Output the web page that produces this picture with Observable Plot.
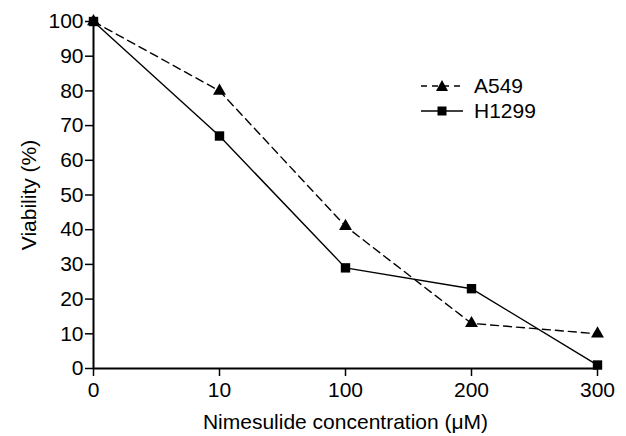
<!DOCTYPE html>
<html>
<head>
<meta charset="utf-8">
<script src="https://cdn.jsdelivr.net/npm/d3@7"></script>
<script src="https://cdn.jsdelivr.net/npm/@observablehq/plot@0.6"></script>
<style>
  html, body { margin: 0; padding: 0; background: #fff; }
  #wrap { position: relative; width: 626px; height: 436px; font-family: "Liberation Sans", Arial, Helvetica, sans-serif; }
  #legend { position: absolute; left: 420px; top: 73px; font-size: 21px; color: #000; line-height: 25px; }
  #legend .row { display: flex; align-items: center; height: 25px; }
  #legend svg { margin-right: 10px; }
</style>
</head>
<body>
<div id="wrap"></div>
<script>
const concentrations = ["0", "10", "100", "200", "300"];
const a549 = [100, 80, 41, 13, 10];
const h1299 = [100, 67, 29, 23, 1];
const yTicks = [0, 10, 20, 30, 40, 50, 60, 70, 80, 90, 100];
const seriesNames = ["A549", "H1299"];

const dataA = concentrations.map((c, i) => ({conc: c, v: a549[i]}));
const dataH = concentrations.map((c, i) => ({conc: c, v: h1299[i]}));

const chart = Plot.plot({
  width: 626,
  height: 436,
  marginLeft: 93,
  marginRight: 29,
  marginTop: 21,
  marginBottom: 68,
  style: { fontFamily: '"Liberation Sans", Arial, Helvetica, sans-serif', fontSize: "21px", color: "#000", background: "#fff" },
  x: { type: "point", domain: concentrations, padding: 0 },
  y: { domain: [0, 100] },
  marks: [
    Plot.axisY({ ticks: yTicks, tickSize: 8, tickPadding: 2, strokeWidth: 1.5, label: "Viability (%)", labelAnchor: "center", labelArrow: "none", labelOffset: 72 }),
    Plot.axisX({ tickSize: 8, tickPadding: 6, strokeWidth: 1.5, label: "Nimesulide concentration (μM)", labelAnchor: "center", labelArrow: "none", labelOffset: 60 }),
    Plot.ruleY([0], { stroke: "#000", strokeWidth: 2 }),
    Plot.ruleX([concentrations[0]], { y1: 0, y2: 100, stroke: "#000", strokeWidth: 2 }),
    Plot.line(dataA, { x: "conc", y: "v", stroke: "#000", strokeWidth: 1.4, strokeDasharray: "8,5" }),
    Plot.line(dataH, { x: "conc", y: "v", stroke: "#000", strokeWidth: 1.4 }),
    Plot.dot(dataA, { x: "conc", y: "v", symbol: "triangle", r: 4.8, fill: "#000", stroke: "none" }),
    Plot.dot(dataH, { x: "conc", y: "v", symbol: "square", r: 5.3, fill: "#000", stroke: "none" })
  ]
});

const wrap = document.getElementById("wrap");
wrap.appendChild(chart);

const legend = document.createElement("div");
legend.id = "legend";
legend.innerHTML = `
  <div class="row"><svg width="44" height="14"><line x1="1" y1="7" x2="43" y2="7" stroke="#000" stroke-width="1.4" stroke-dasharray="6,5"/><path d="M22,1 L28,12 L16,12 Z" fill="#000"/></svg><span>${seriesNames[0]}</span></div>
  <div class="row"><svg width="44" height="14"><line x1="1" y1="7" x2="43" y2="7" stroke="#000" stroke-width="1.4"/><rect x="17.5" y="2.5" width="9" height="9" fill="#000"/></svg><span>${seriesNames[1]}</span></div>
`;
wrap.appendChild(legend);
</script>
</body>
</html>
